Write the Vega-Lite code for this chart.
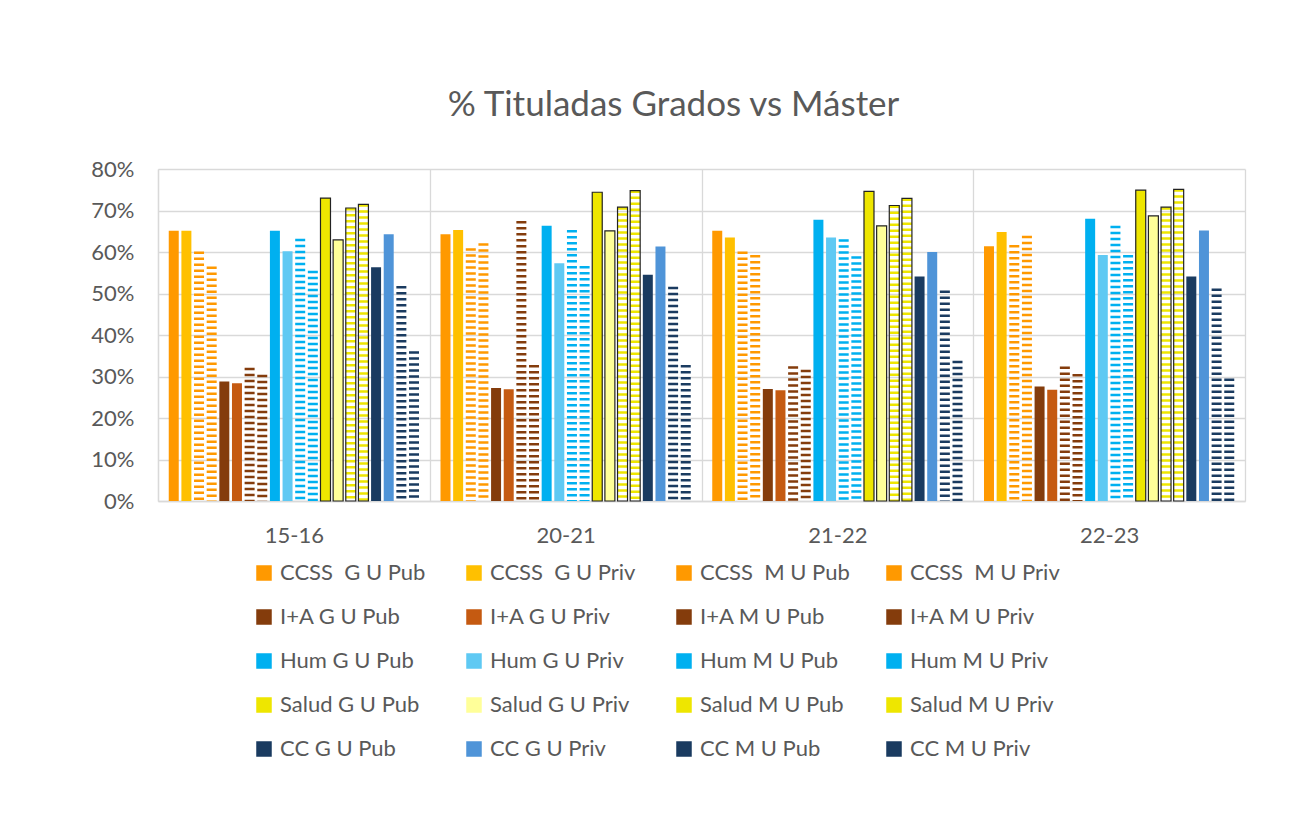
{
  "$schema": "https://vega.github.io/schema/vega-lite/v6.json",
  "width": 1087,
  "height": 332,
  "autosize": "none",
  "padding": {"left": 158, "top": 169, "right": 57, "bottom": 326},
  "background": "white",
  "config": {
    "font": "Lato",
    "view": {"stroke": null},
    "axis": {"gridColor": "#D9D9D9", "gridWidth": 1.3, "domainColor": "#D9D9D9", "domainWidth": 1.3, "labelColor": "#595959", "labelFontSize": 22, "ticks": false, "title": null}
  },
  "title": {"text": "% Tituladas Grados vs Máster", "fontSize": 35, "fontWeight": "normal", "color": "#595959", "anchor": "middle", "dx": -28, "offset": 35},
  "data": {"values": [
    {"year": "15-16", "series": "CCSS\u00a0 G U Pub", "value": 65.1},
    {"year": "15-16", "series": "CCSS\u00a0 G U Priv", "value": 65.1},
    {"year": "15-16", "series": "CCSS\u00a0 M U Pub", "value": 60.1},
    {"year": "15-16", "series": "CCSS\u00a0 M U Priv", "value": 56.5},
    {"year": "15-16", "series": "I+A G U Pub", "value": 28.8},
    {"year": "15-16", "series": "I+A G U Priv", "value": 28.4},
    {"year": "15-16", "series": "I+A M U Pub", "value": 32.1},
    {"year": "15-16", "series": "I+A M U Priv", "value": 30.4},
    {"year": "15-16", "series": "Hum G U Pub", "value": 65.1},
    {"year": "15-16", "series": "Hum G U Priv", "value": 60.2},
    {"year": "15-16", "series": "Hum M U Pub", "value": 63.2},
    {"year": "15-16", "series": "Hum M U Priv", "value": 55.5},
    {"year": "15-16", "series": "Salud G U Pub", "value": 73.0},
    {"year": "15-16", "series": "Salud G U Priv", "value": 62.9},
    {"year": "15-16", "series": "Salud M U Pub", "value": 70.6},
    {"year": "15-16", "series": "Salud M U Priv", "value": 71.5},
    {"year": "15-16", "series": "CC G U Pub", "value": 56.3},
    {"year": "15-16", "series": "CC G U Priv", "value": 64.3},
    {"year": "15-16", "series": "CC M U Pub", "value": 51.8},
    {"year": "15-16", "series": "CC M U Priv", "value": 36.1},
    {"year": "20-21", "series": "CCSS\u00a0 G U Pub", "value": 64.3},
    {"year": "20-21", "series": "CCSS\u00a0 G U Priv", "value": 65.3},
    {"year": "20-21", "series": "CCSS\u00a0 M U Pub", "value": 60.9},
    {"year": "20-21", "series": "CCSS\u00a0 M U Priv", "value": 62.1},
    {"year": "20-21", "series": "I+A G U Pub", "value": 27.2},
    {"year": "20-21", "series": "I+A G U Priv", "value": 26.9},
    {"year": "20-21", "series": "I+A M U Pub", "value": 67.5},
    {"year": "20-21", "series": "I+A M U Priv", "value": 32.8},
    {"year": "20-21", "series": "Hum G U Pub", "value": 66.3},
    {"year": "20-21", "series": "Hum G U Priv", "value": 57.3},
    {"year": "20-21", "series": "Hum M U Pub", "value": 65.3},
    {"year": "20-21", "series": "Hum M U Priv", "value": 56.6},
    {"year": "20-21", "series": "Salud G U Pub", "value": 74.4},
    {"year": "20-21", "series": "Salud G U Priv", "value": 65.1},
    {"year": "20-21", "series": "Salud M U Pub", "value": 70.8},
    {"year": "20-21", "series": "Salud M U Priv", "value": 74.8},
    {"year": "20-21", "series": "CC G U Pub", "value": 54.5},
    {"year": "20-21", "series": "CC G U Priv", "value": 61.3},
    {"year": "20-21", "series": "CC M U Pub", "value": 51.6},
    {"year": "20-21", "series": "CC M U Priv", "value": 32.8},
    {"year": "21-22", "series": "CCSS\u00a0 G U Pub", "value": 65.1},
    {"year": "21-22", "series": "CCSS\u00a0 G U Priv", "value": 63.5},
    {"year": "21-22", "series": "CCSS\u00a0 M U Pub", "value": 60.1},
    {"year": "21-22", "series": "CCSS\u00a0 M U Priv", "value": 59.3},
    {"year": "21-22", "series": "I+A G U Pub", "value": 27.0},
    {"year": "21-22", "series": "I+A G U Priv", "value": 26.7},
    {"year": "21-22", "series": "I+A M U Pub", "value": 32.5},
    {"year": "21-22", "series": "I+A M U Priv", "value": 31.6},
    {"year": "21-22", "series": "Hum G U Pub", "value": 67.8},
    {"year": "21-22", "series": "Hum G U Priv", "value": 63.5},
    {"year": "21-22", "series": "Hum M U Pub", "value": 63.1},
    {"year": "21-22", "series": "Hum M U Priv", "value": 59.0},
    {"year": "21-22", "series": "Salud G U Pub", "value": 74.6},
    {"year": "21-22", "series": "Salud G U Priv", "value": 66.3},
    {"year": "21-22", "series": "Salud M U Pub", "value": 71.2},
    {"year": "21-22", "series": "Salud M U Priv", "value": 72.9},
    {"year": "21-22", "series": "CC G U Pub", "value": 54.1},
    {"year": "21-22", "series": "CC G U Priv", "value": 60.0},
    {"year": "21-22", "series": "CC M U Pub", "value": 50.7},
    {"year": "21-22", "series": "CC M U Priv", "value": 33.8},
    {"year": "22-23", "series": "CCSS\u00a0 G U Pub", "value": 61.4},
    {"year": "22-23", "series": "CCSS\u00a0 G U Priv", "value": 64.8},
    {"year": "22-23", "series": "CCSS\u00a0 M U Pub", "value": 61.7},
    {"year": "22-23", "series": "CCSS\u00a0 M U Priv", "value": 63.9},
    {"year": "22-23", "series": "I+A G U Pub", "value": 27.6},
    {"year": "22-23", "series": "I+A G U Priv", "value": 26.8},
    {"year": "22-23", "series": "I+A M U Pub", "value": 32.4},
    {"year": "22-23", "series": "I+A M U Priv", "value": 30.6},
    {"year": "22-23", "series": "Hum G U Pub", "value": 68.0},
    {"year": "22-23", "series": "Hum G U Priv", "value": 59.3},
    {"year": "22-23", "series": "Hum M U Pub", "value": 66.3},
    {"year": "22-23", "series": "Hum M U Priv", "value": 59.3},
    {"year": "22-23", "series": "Salud G U Pub", "value": 74.9},
    {"year": "22-23", "series": "Salud G U Priv", "value": 68.7},
    {"year": "22-23", "series": "Salud M U Pub", "value": 70.8},
    {"year": "22-23", "series": "Salud M U Priv", "value": 75.1},
    {"year": "22-23", "series": "CC G U Pub", "value": 54.1},
    {"year": "22-23", "series": "CC G U Priv", "value": 65.2},
    {"year": "22-23", "series": "CC M U Pub", "value": 51.2},
    {"year": "22-23", "series": "CC M U Priv", "value": 29.5}
  ]},
  "encoding": {
    "x": {"field": "year", "type": "nominal", "sort": null,
      "scale": {"paddingInner": 0, "paddingOuter": 0},
      "axis": {"labelAngle": 0, "grid": true, "tickBand": "extent", "labelPadding": 24, "domain": true}},
    "xOffset": {"field": "series", "type": "nominal",
      "sort": ["CCSS\u00a0 G U Pub", "CCSS\u00a0 G U Priv", "CCSS\u00a0 M U Pub", "CCSS\u00a0 M U Priv", "I+A G U Pub", "I+A G U Priv", "I+A M U Pub", "I+A M U Priv", "Hum G U Pub", "Hum G U Priv", "Hum M U Pub", "Hum M U Priv", "Salud G U Pub", "Salud G U Priv", "Salud M U Pub", "Salud M U Priv", "CC G U Pub", "CC G U Priv", "CC M U Pub", "CC M U Priv"],
      "scale": {"paddingInner": 0.21, "paddingOuter": 0.85}},
    "y": {"field": "value", "type": "quantitative", "stack": null,
      "scale": {"domain": [0, 80], "nice": false},
      "axis": {"values": [0, 10, 20, 30, 40, 50, 60, 70, 80], "labelExpr": "datum.value + '%'", "grid": true, "domain": true, "labelPadding": 24}},
    "color": {"field": "series", "type": "nominal",
      "scale": {
        "domain": ["CCSS\u00a0 G U Pub", "CCSS\u00a0 G U Priv", "CCSS\u00a0 M U Pub", "CCSS\u00a0 M U Priv", "I+A G U Pub", "I+A G U Priv", "I+A M U Pub", "I+A M U Priv", "Hum G U Pub", "Hum G U Priv", "Hum M U Pub", "Hum M U Priv", "Salud G U Pub", "Salud G U Priv", "Salud M U Pub", "Salud M U Priv", "CC G U Pub", "CC G U Priv", "CC M U Pub", "CC M U Priv"],
        "range": ["#FF9900", "#FFC000", "#FF9900", "#FF9900", "#843C0C", "#C55A11", "#843C0C", "#843C0C", "#00B0F0", "#5FC9F3", "#00B0F0", "#00B0F0", "#EEE600", "#FFFF99", "#EEE600", "#EEE600", "#1A3B60", "#4F94D8", "#1A3B60", "#1A3B60"]},
      "legend": {
        "orient": "none", "legendX": 95, "legendY": 393, "title": null,
        "direction": "horizontal", "columns": 4, "gridAlign": "all",
        "symbolType": "square", "symbolSize": 196,
        "labelFontSize": 22, "labelColor": "#595959", "labelOffset": 5, "labelLimit": 300,
        "rowPadding": 22, "columnPadding": 33, "padding": 0
      }
    }
  },
  "layer": [
    {"transform": [{"filter": "indexof(datum.series, ' M U') < 0 && indexof(datum.series, 'Salud') != 0"}],
     "mark": {"type": "bar"}},
    {"transform": [{"filter": "indexof(datum.series, ' M U') < 0 && indexof(datum.series, 'Salud') == 0"}],
     "mark": {"type": "bar", "stroke": "#222222", "strokeWidth": 1.2}},
    {"transform": [{"filter": "indexof(datum.series, ' M U') >= 0"}],
     "mark": {"type": "rule", "strokeWidth": 10, "strokeDash": [2.5, 3.5]},
     "encoding": {"y2": {"datum": 0}}},
    {"transform": [{"filter": "indexof(datum.series, ' M U') >= 0 && indexof(datum.series, 'Salud') == 0"}],
     "mark": {"type": "bar", "stroke": "#222222", "strokeWidth": 1.2},
     "encoding": {"color": {"value": "transparent"}}}
  ]
}
